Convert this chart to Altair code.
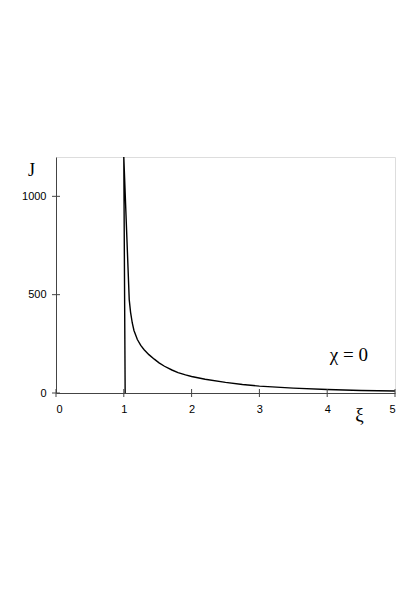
import altair as alt
import pandas as pd

xi = [1.02, 1.0, 1.08, 1.1, 1.125, 1.15, 1.2, 1.25, 1.3, 1.37, 1.45, 1.52, 1.6, 1.71,
      1.8, 1.91, 2.0, 2.2, 2.5, 2.75, 3.0, 3.5, 4.0, 4.5, 5.0]
J = [0, 1200, 475, 410, 356, 318, 272, 242, 220, 195, 172, 153, 136, 117,
     104, 92, 84, 70, 54, 43, 35, 25, 18, 13, 10]
x_ticks = [0, 1, 2, 3, 4, 5]
y_ticks = [0, 500, 1000]
note = "χ = 0"

df = pd.DataFrame({"xi": xi, "J": J, "o": list(range(len(xi)))})
xt = pd.DataFrame({"v": x_ticks})
yt = pd.DataFrame({"v": y_ticks})
lab = pd.DataFrame({"xi": [4.32], "J": [195], "t": [note]})

xs = alt.Scale(domain=[0, 5], nice=False)
ys = alt.Scale(domain=[0, 1200], nice=False)

serif = "Liberation Serif"
sans = "Liberation Sans"

line = alt.Chart(df).mark_line(color="black", strokeWidth=1.4).encode(
    x=alt.X("xi:Q", scale=xs, axis=alt.Axis(
        values=x_ticks, format="d", ticks=False, grid=False, domainColor="#444",
        labelFont=sans, labelFontSize=11, labelColor="black", labelPadding=10,
        title="ξ", titleFont=serif, titleFontSize=19, titleFontWeight="normal",
        titleX=303, titleY=21, titleAlign="center", titleBaseline="middle")),
    y=alt.Y("J:Q", scale=ys, axis=alt.Axis(
        values=y_ticks, format="d", ticks=False, grid=False, domainColor="#444",
        labelFont=sans, labelFontSize=11, labelColor="black", labelPadding=10,
        title="J", titleFont=serif, titleFontSize=18, titleFontWeight="normal",
        titleAngle=0, titleX=-25, titleY=13, titleAlign="center", titleBaseline="middle")),
    order="o:Q",
)

xtick = alt.Chart(xt).mark_point(shape="M0,-1L0,1", size=64, filled=False,
                                 strokeWidth=1, color="#444", opacity=1).encode(
    x=alt.X("v:Q", scale=xs), y=alt.datum(0, scale=ys))
ytick = alt.Chart(yt).mark_point(shape="M-1,0L1,0", size=64, filled=False,
                                 strokeWidth=1, color="#444", opacity=1).encode(
    y=alt.Y("v:Q", scale=ys), x=alt.datum(0, scale=xs))

text = alt.Chart(lab).mark_text(font=serif, fontSize=19, align="center", baseline="middle", color="black").encode(
    x=alt.X("xi:Q", scale=xs), y=alt.Y("J:Q", scale=ys), text="t:N")

chart = alt.layer(line, xtick, ytick, text).properties(
    width=339, height=236,
    autosize=alt.AutoSizeParams(type="none"),
    padding={"left": 48, "top": 149, "right": 17, "bottom": 180},
).configure_view(stroke=None).configure(background="white")

chart.save("out.html", embed_options={"renderer": "svg", "actions": False})
